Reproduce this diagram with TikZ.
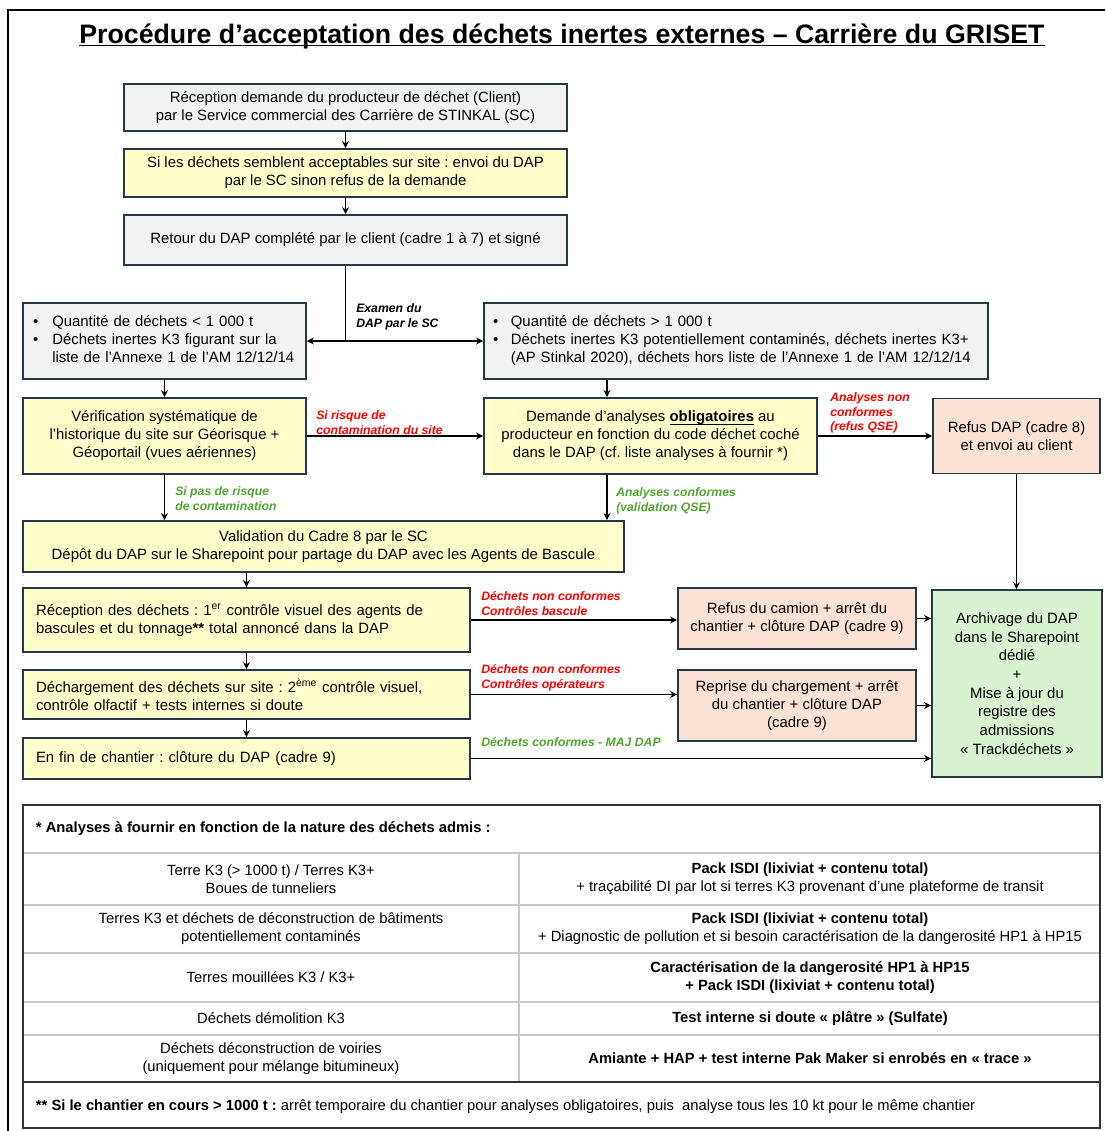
\documentclass[tikz,border=0pt]{standalone}
\usepackage{fontspec}
\setmainfont{Liberation Sans}
\usetikzlibrary{positioning, arrows.meta}
\frenchspacing

\definecolor{trait}{RGB}{38,55,70}
\definecolor{fondgris}{RGB}{242,242,242}
\definecolor{fondjaune}{RGB}{255,255,204}
\definecolor{fondrose}{RGB}{251,226,213}
\definecolor{fondvert}{RGB}{217,242,208}
\definecolor{texterouge}{RGB}{255,0,0}
\definecolor{textevert}{RGB}{78,167,46}
\definecolor{ligne}{RGB}{200,200,200}

\newcommand{\pxu}{0.025cm}
\newcommand{\souligne}[1]{\underline{\smash{#1}}}

\begin{document}
\begin{tikzpicture}[x=0.025cm, y=-0.025cm, >={Stealth[length=5pt,width=5pt]}, font=\fontsize{10.6}{12.8}\selectfont]
	\tikzset{
		cadre/.style={draw=trait, line width=1.3pt, align=center, inner sep=2pt},
		gris/.style={cadre, fill=fondgris},
		jaune/.style={cadre, fill=fondjaune},
		rose/.style={cadre, fill=fondrose},
		vert/.style={cadre, fill=fondvert},
		note/.style={anchor=north west, inner sep=0pt, align=left, font=\bfseries\itshape\fontsize{8.7}{10.6}\selectfont},
		nonok/.style={note, text=texterouge},
		ok/.style={note, text=textevert},
		fleche/.style={->, line width=1.3pt},
		cellule/.style={align=center, font=\fontsize{10.5}{12.8}\selectfont}
	}
	\useasboundingbox (0,0) rectangle (1105,1131);
	\draw[line width=1.4pt] (8,1131) -- (8,10) -- (1105,10);
	\node[anchor=base, inner sep=0pt, font=\bfseries\fontsize{19}{22}\selectfont] (titre) at (562,43) {\souligne{Procédure d’acceptation des déchets inertes externes – Carrière du GRISET}};
	
	% demande et DAP
	\node[gris, minimum width=443*\pxu, minimum height=47*\pxu] (demande) at (345.5,107.5) {Réception demande du producteur de déchet (Client)\\par le Service commercial des Carrière de STINKAL (SC)};
	\node[jaune, minimum width=443*\pxu, minimum height=48*\pxu] (envoi) at (345.5,173) {Si les déchets semblent acceptables sur site : envoi du DAP\\par le SC sinon refus de la demande};
	\node[gris, minimum width=443*\pxu, minimum height=50*\pxu] (retour) at (345.5,240) {Retour du DAP complété par le client (cadre 1 à 7) et signé};
	
	% deux cas
	\node[gris, align=left, inner xsep=10*\pxu, text width=263*\pxu, minimum height=76*\pxu] (petit) at (164.5,341) {\begin{tabular}{@{}l@{\hspace{10pt}}l@{}}
			• & Quantité de déchets < 1 000 t\\
			• & Déchets inertes K3 figurant sur la\\
			& liste de l’Annexe 1 de l’AM 12/12/14
	\end{tabular}};
	\node[gris, align=left, inner xsep=9*\pxu, text width=486*\pxu, minimum height=76*\pxu] (gros) at (736,341) {\begin{tabular}{@{}l@{\hspace{9pt}}l@{}}
			• & Quantité de déchets > 1 000 t\\
			• & Déchets inertes K3 potentiellement contaminés, déchets inertes K3+\\
			& (AP Stinkal 2020), déchets hors liste de l’Annexe 1 de l’AM 12/12/14
	\end{tabular}};
	\node[jaune, minimum width=283*\pxu, minimum height=76*\pxu] (verif) at (164.5,436) {Vérification systématique de\\l’historique du site sur Géorisque +\\Géoportail (vues aériennes)};
	\node[jaune, minimum width=333*\pxu, minimum height=76*\pxu] (analyses) at (650.5,436) {Demande d’analyses \souligne{\textbf{obligatoires}} au\\producteur en fonction du code déchet coché\\dans le DAP (cf. liste analyses à fournir *)};
	\node[rose, minimum width=167*\pxu, minimum height=75*\pxu] (refusdap) at (1016.5,436) {Refus DAP (cadre 8)\\et envoi au client};
	\node[jaune, minimum width=601*\pxu, minimum height=51*\pxu] (validation) at (323.5,546.5) {Validation du Cadre 8 par le SC\\Dépôt du DAP sur le Sharepoint pour partage du DAP avec les Agents de Bascule};
	
	% sur site
	\node[jaune, align=left, inner xsep=13*\pxu, text width=421*\pxu, minimum height=64*\pxu] (reception) at (246.5,620) {Réception des déchets : 1\textsuperscript{er} contrôle visuel des agents de\\bascules et du tonnage\textbf{**} total annoncé dans la DAP};
	\node[jaune, align=left, inner xsep=13*\pxu, text width=421*\pxu, minimum height=49*\pxu] (dechargement) at (246.5,694.5) {Déchargement des déchets sur site : 2\textsuperscript{ème} contrôle visuel,\\contrôle olfactif + tests internes si doute};
	\node[jaune, align=left, inner xsep=13*\pxu, text width=421*\pxu, minimum height=41*\pxu] (finchantier) at (246.5,758.5) {En fin de chantier : clôture du DAP (cadre 9)};
	\node[rose, minimum width=238*\pxu, minimum height=61*\pxu] (refuscamion) at (797,618.5) {Refus du camion + arrêt du\\chantier + clôture DAP (cadre 9)};
	\node[rose, minimum width=238*\pxu, minimum height=71*\pxu] (reprise) at (797,705.5) {Reprise du chargement + arrêt\\du chantier + clôture DAP\\(cadre 9)};
	\node[vert, minimum width=170*\pxu, minimum height=187*\pxu, font=\fontsize{10.6}{13.3}\selectfont] (archivage) at (1017,683.5) {Archivage du DAP\\dans le Sharepoint\\dédié\\+\\Mise à jour du\\registre des\\admissions\\«~Trackdéchets~»};
	
	% liaisons
	\draw[fleche] (demande) -- (envoi);
	\draw[fleche] (envoi) -- (retour);
	\coordinate (partage) at (retour.south |- petit.east);
	\draw[line width=1.3pt] (retour) -- (partage);
	\draw[fleche] (partage) -- (petit);
	\draw[fleche] (partage) -- (gros);
	\draw[fleche] (petit) -- (verif);
	\coordinate (axeA) at (607,0);
	\draw[fleche] (gros.south -| axeA) -- (analyses.north -| axeA);
	\draw[fleche] (verif.east) -- (verif.east -| analyses.west);
	\draw[fleche] (analyses.east) -- (analyses.east -| refusdap.west);
	\draw[fleche] (verif.south) -- (verif.south |- validation.north);
	\draw[fleche] (analyses.south -| axeA) -- (validation.north -| axeA);
	\draw[fleche] (refusdap.south) -- (refusdap.south |- archivage.north);
	\draw[fleche] (validation.south -| reception.north) -- (reception.north);
	\draw[fleche] (reception) -- (dechargement);
	\draw[fleche] (dechargement) -- (finchantier);
	\draw[fleche] (reception.east) -- (reception.east -| refuscamion.west);
	\draw[fleche] (dechargement.east) -- (dechargement.east -| reprise.west);
	\draw[fleche] (finchantier.east) -- (finchantier.east -| archivage.west);
	\draw[fleche] (refuscamion.east) -- (refuscamion.east -| archivage.west);
	\draw[fleche] (reprise.east) -- (reprise.east -| archivage.west);
	
	% textes des liaisons
	\node[note] (examen) at (356,303) {Examen du\\DAP par le SC};
	\node[nonok] (risque) at (316,410) {Si risque de\\contamination du site};
	\node[nonok] (nonconf) at (830,392) {Analyses non\\conformes\\(refus QSE)};
	\node[ok] (pasrisque) at (175,486) {Si pas de risque\\de contamination};
	\node[ok] (conf) at (616,487) {Analyses conformes\\(validation QSE)};
	\node[nonok] (bascule) at (481,591) {Déchets non conformes\\Contrôles bascule};
	\node[nonok] (operateurs) at (481,664) {Déchets non conformes\\Contrôles opérateurs};
	\node[ok] (majdap) at (481,737) {Déchets conformes - MAJ DAP};
	
	% tableau des analyses
	\draw[ligne, line width=0.8pt] (23,853) -- (1100,853);
	\foreach \yy in {905,953,1002,1035}
		\draw[ligne, line width=0.8pt] (23,\yy) -- (1100,\yy);
	\draw[ligne, line width=0.8pt] (519,853) -- (519,1082);
	\draw[black!80, line width=1.6pt] (23,1082) -- (1100,1082);
	\draw[black!80, line width=1.6pt] (23,805) rectangle (1100,1128);
	\node[anchor=west, font=\bfseries\fontsize{10.5}{12}\selectfont] (entete) at (31,829) {* Analyses à fournir en fonction de la nature des déchets admis :};
	\node[cellule] (nat1) at (271,879) {Terre K3 (> 1000 t) / Terres K3+\\Boues de tunneliers};
	\node[cellule] (ana1) at (810,879) {\textbf{Pack ISDI (lixiviat + contenu total)}\\+ traçabilité DI par lot si terres K3 provenant d’une plateforme de transit};
	\node[cellule] (nat2) at (271,929) {Terres K3 et déchets de déconstruction de bâtiments\\potentiellement contaminés};
	\node[cellule] (ana2) at (810,929) {\textbf{Pack ISDI (lixiviat + contenu total)}\\+ Diagnostic de pollution et si besoin caractérisation de la dangerosité HP1 à HP15};
	\node[cellule] (nat3) at (271,977.5) {Terres mouillées K3 / K3+};
	\node[cellule, font=\bfseries\fontsize{10.5}{12.8}\selectfont] (ana3) at (810,977.5) {Caractérisation de la dangerosité HP1 à HP15\\+ Pack ISDI (lixiviat + contenu total)};
	\node[cellule] (nat4) at (271,1018.5) {Déchets démolition K3};
	\node[cellule, font=\bfseries\fontsize{10.5}{12.8}\selectfont] (ana4) at (810,1018.5) {Test interne si doute «~plâtre~» (Sulfate)};
	\node[cellule] (nat5) at (271,1058.5) {Déchets déconstruction de voiries\\(uniquement pour mélange bitumineux)};
	\node[cellule, font=\bfseries\fontsize{10.5}{12.8}\selectfont] (ana5) at (810,1058.5) {Amiante + HAP + test interne Pak Maker si enrobés en «~trace~»};
	\node[anchor=west, font=\fontsize{10.5}{12}\selectfont] (chantier) at (31,1107) {\textbf{** Si le chantier en cours > 1000 t :} arrêt temporaire du chantier pour analyses obligatoires, puis~ analyse tous les 10 kt pour le même chantier};
\end{tikzpicture}
\end{document}
